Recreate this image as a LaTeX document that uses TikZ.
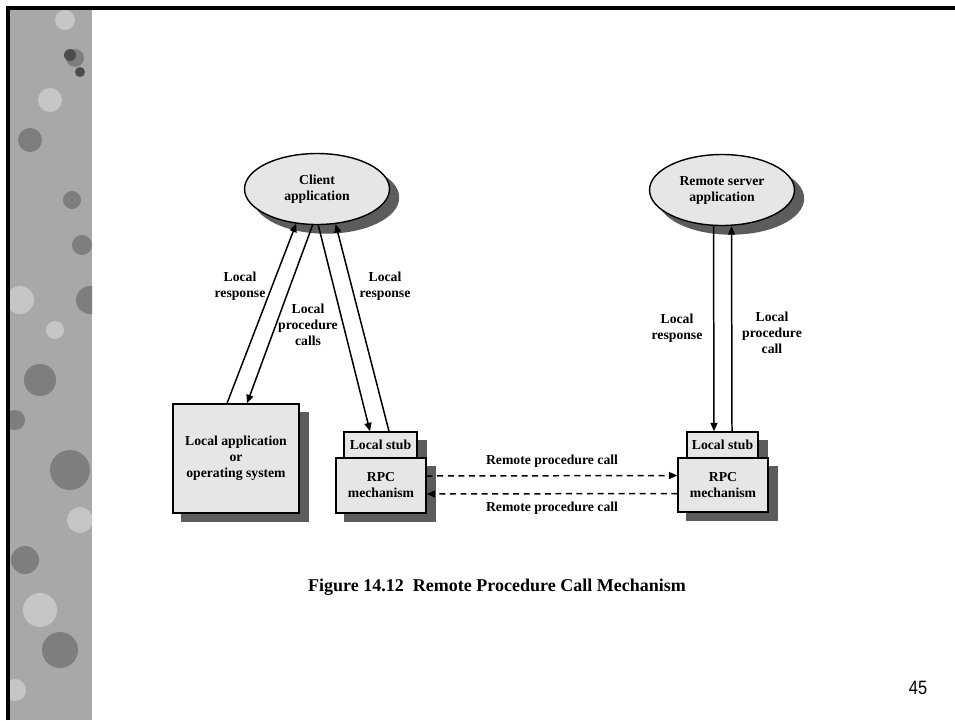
\documentclass[tikz,border=0pt]{standalone}
\usepackage{fontspec}
\setmainfont{Liberation Serif}
\newfontfamily\numfont{Liberation Sans}
\usetikzlibrary{arrows.meta,shadows,shapes.geometric}
\definecolor{boxfill}{HTML}{E6E6E6}
\definecolor{shadowgray}{HTML}{5C5C5C}
\definecolor{stripgray}{HTML}{A8A8A8}
\definecolor{stripdark}{HTML}{7E7E7E}
\definecolor{striplight}{HTML}{C6C6C6}
\tikzset{
  figtext/.style={font=\fontsize{7.8}{9.1}\selectfont\bfseries, align=center},
  shadowed/.style={draw=black, line width=0.8pt, fill=boxfill,
    general shadow={fill=shadowgray, draw=shadowgray, shadow xshift=0.18cm, shadow yshift=-0.17cm}},
  appbox/.style={shadowed, figtext, inner sep=0pt},
  appoval/.style={shadowed, figtext, ellipse, inner sep=0pt, minimum width=2.9cm, minimum height=1.42cm},
  call/.style={-{Triangle[length=4.8pt,width=4pt]}, line width=0.85pt},
  remote/.style={call, dash pattern=on 3.4pt off 2.6pt}
}
\begin{document}
\begin{tikzpicture}[x=0.02cm,y=-0.02cm]
  \useasboundingbox (0,0) rectangle (955,720);
  \fill[white] (0,0) rectangle (955,720);
  % decorative strip
  \begin{scope}
    \clip (10,10) rectangle (92,720);
    \fill[stripgray] (10,10) rectangle (92,720);
    \fill[stripdark] (75,58) circle (9) (30,140) circle (12) (72,200) circle (9) (82,245) circle (10)
      (40,380) circle (16) (70,470) circle (20) (25,560) circle (14) (60,650) circle (18)
      (90,300) circle (14) (15,420) circle (10);
    \fill[striplight] (50,100) circle (12) (20,300) circle (14) (55,330) circle (9) (80,520) circle (13)
      (40,610) circle (17) (15,690) circle (11) (65,20) circle (10);
    \fill[black!70] (70,55) circle (6) (80,72) circle (5);
  \end{scope}
  \draw[line width=2pt] (8,720) -- (8,8) -- (955,8);
  % boxes
  \node[appoval] (client) at (317,189) {Client\\application};
  \node[appoval] (server) at (722,190) {Remote server\\application};
  \node[appbox, minimum width=2.52cm, minimum height=2.18cm] (localapp) at (236,458.5)
    {Local application\\or\\operating system};
  \node[appbox, minimum width=1.46cm, minimum height=0.52cm] (stubL) at (380.5,445) {Local stub};
  \node[appbox, minimum width=1.8cm, minimum height=1.1cm] (rpcL) at (381,485.5) {RPC\\mechanism};
  \node[appbox, minimum width=1.42cm, minimum height=0.52cm] (stubR) at (722.5,445) {Local stub};
  \node[appbox, minimum width=1.8cm, minimum height=1.08cm] (rpcR) at (723,485) {RPC\\mechanism};
  % local calls
  \draw[call] ([xshift=-0.18cm]localapp.north) -- (client.-121);
  \draw[call] (client.-97) -- ([xshift=0.22cm]localapp.north);
  \draw[call] (client.-88) -- ([xshift=-0.21cm]stubL.north);
  \draw[call] ([xshift=0.17cm]stubL.north) -- (client.-62);
  \draw[call] ([xshift=-0.17cm]server.south) -- ([xshift=-0.17cm]stubR.north);
  \draw[call] ([xshift=0.19cm]stubR.north) -- ([xshift=0.19cm]server.south);
  \node[figtext] (resp1) at (240,286) {Local\\response};
  \node[figtext] (calls1) at (308,325) {Local\\procedure\\calls};
  \node[figtext] (resp2) at (385,286) {Local\\response};
  \node[figtext] (resp3) at (677,328) {Local\\response};
  \node[figtext] (calls2) at (772,333) {Local\\procedure\\call};
  % remote calls
  \draw[remote] ([yshift=0.19cm]rpcL.east) -- ([yshift=0.19cm]rpcR.west)
    node[figtext, midway, above=1pt] (rcall1) {Remote procedure call};
  \draw[remote] ([yshift=-0.17cm]rpcR.west) -- ([yshift=-0.17cm]rpcL.east)
    node[figtext, midway, below=1pt] (rcall2) {Remote procedure call};
  \node[font=\fontsize{10.25}{12}\selectfont\bfseries] (caption) at (497,587)
    {Figure 14.12\ \ Remote Procedure Call Mechanism};
  \node[font=\numfont\fontsize{11}{13}\selectfont, xscale=0.85] (pagenum) at (918,688) {45};
\end{tikzpicture}
\end{document}
